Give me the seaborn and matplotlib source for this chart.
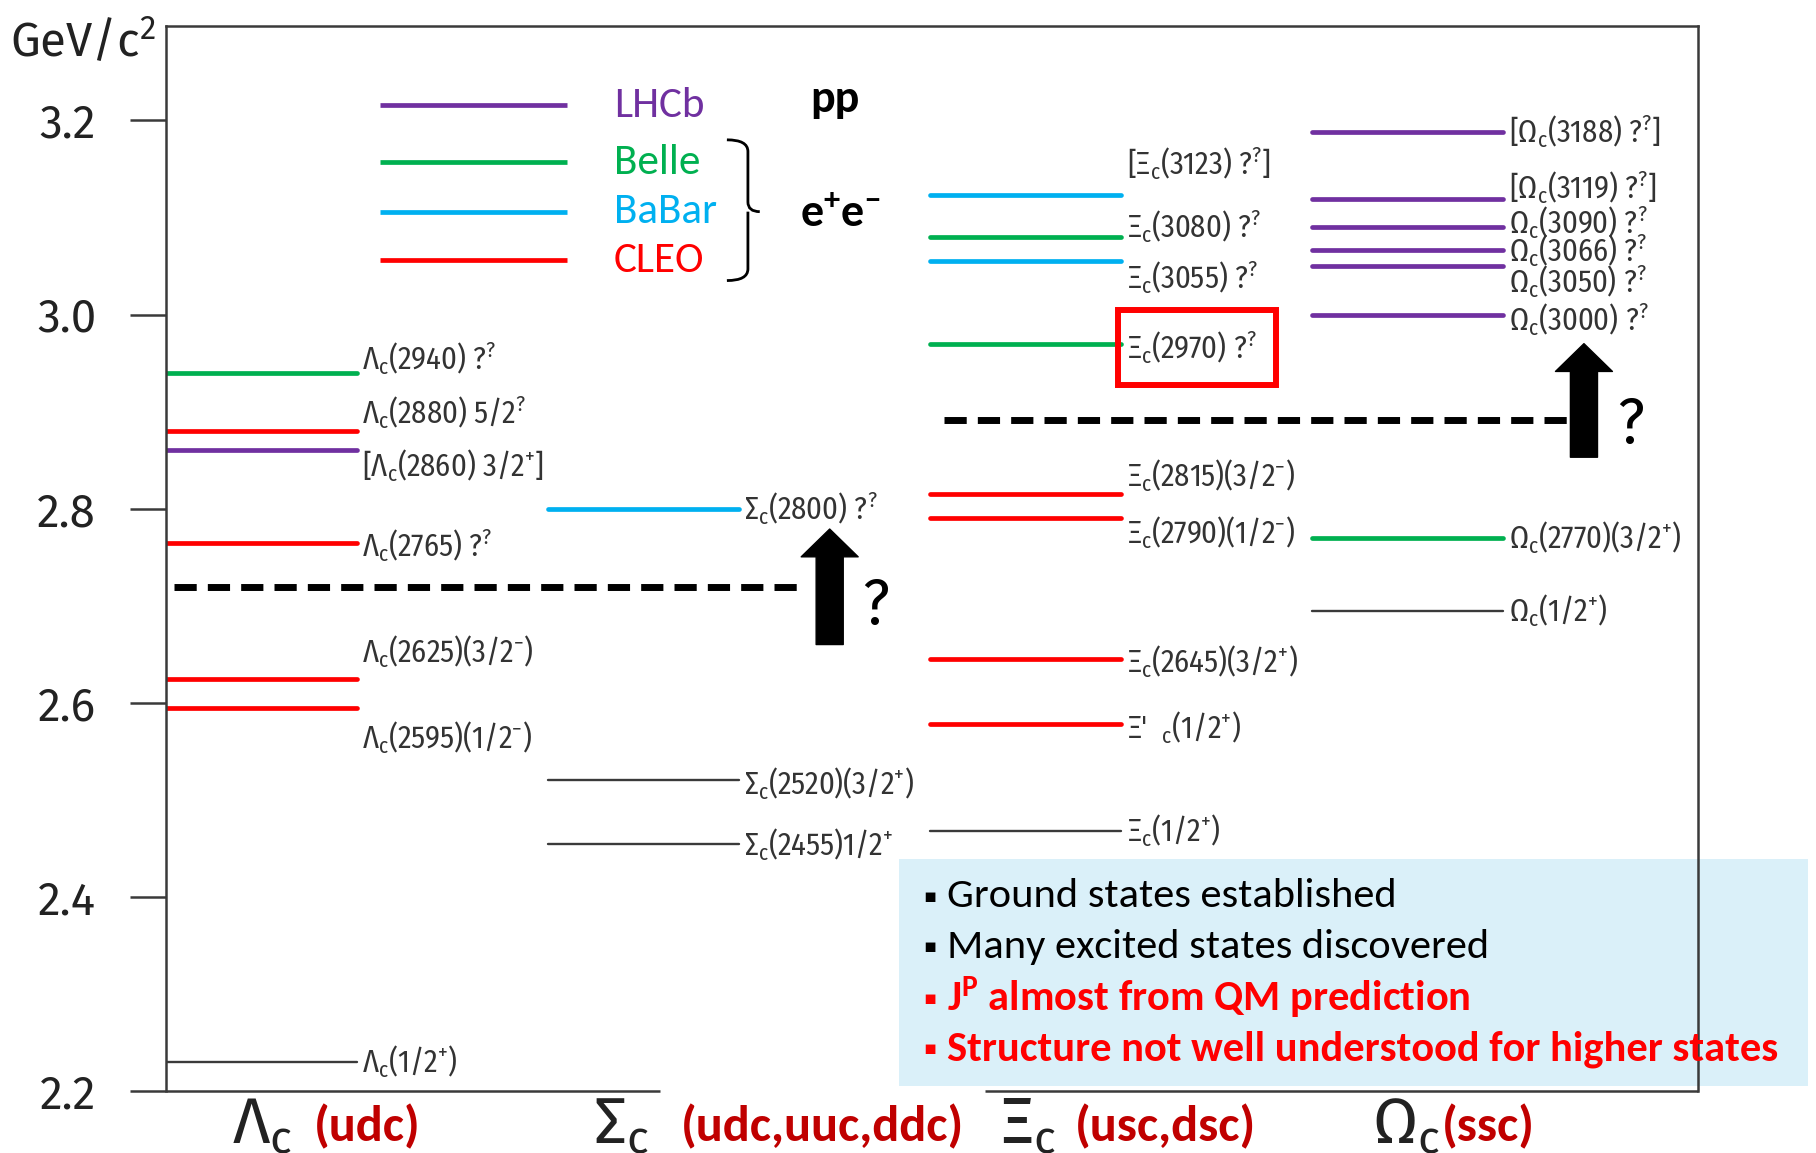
import matplotlib
matplotlib.use("Agg")
import matplotlib.pyplot as plt
import numpy as np
import pandas as pd
import seaborn as sns
from matplotlib import font_manager as fm
from matplotlib.patches import FancyArrowPatch, ArrowStyle, Rectangle, PathPatch
from matplotlib.path import Path

# ---------------- data ----------------
families = ["Λ", "Σ", "Ξ", "Ω"]
quark_content = ["(udc)", "(udc,uuc,ddc)", "(usc,dsc)", "(ssc)"]

lambda_mass = [2.940, 2.880, 2.860, 2.765, 2.625, 2.595, 2.230]
lambda_expt = ["Belle", "CLEO", "LHCb", "CLEO", "CLEO", "CLEO", "ground"]
lambda_text = ["Λ$_{c}$(2940) ?$^{?}$", "Λ$_{c}$(2880) 5/2$^{?}$", "[Λ$_{c}$(2860) 3/2$^{+}$]",
               "Λ$_{c}$(2765) ?$^{?}$", "Λ$_{c}$(2625)(3/2$^{-}$)", "Λ$_{c}$(2595)(1/2$^{-}$)",
               "Λ$_{c}$(1/2$^{+}$)"]

sigma_mass = [2.800, 2.520, 2.455]
sigma_expt = ["BaBar", "ground", "ground"]
sigma_text = ["Σ$_{c}$(2800) ?$^{?}$", "Σ$_{c}$(2520)(3/2$^{+}$)", "Σ$_{c}$(2455)1/2$^{+}$"]

xi_mass = [3.123, 3.080, 3.055, 2.970, 2.815, 2.790, 2.645, 2.578, 2.468]
xi_expt = ["BaBar", "Belle", "BaBar", "Belle", "CLEO", "CLEO", "CLEO", "CLEO", "ground"]
xi_text = ["[Ξ$_{c}$(3123) ?$^{?}$]", "Ξ$_{c}$(3080) ?$^{?}$", "Ξ$_{c}$(3055) ?$^{?}$",
           "Ξ$_{c}$(2970) ?$^{?}$", "Ξ$_{c}$(2815)(3/2$^{-}$)", "Ξ$_{c}$(2790)(1/2$^{-}$)",
           "Ξ$_{c}$(2645)(3/2$^{+}$)", "Ξ'  $_{c}$(1/2$^{+}$)", "Ξ$_{c}$(1/2$^{+}$)"]

omega_mass = [3.188, 3.119, 3.090, 3.066, 3.050, 3.000, 2.770, 2.695]
omega_expt = ["LHCb", "LHCb", "LHCb", "LHCb", "LHCb", "LHCb", "Belle", "ground"]
omega_text = ["[Ω$_{c}$(3188) ?$^{?}$]", "[Ω$_{c}$(3119) ?$^{?}$]", "Ω$_{c}$(3090) ?$^{?}$",
              "Ω$_{c}$(3066) ?$^{?}$", "Ω$_{c}$(3050) ?$^{?}$", "Ω$_{c}$(3000) ?$^{?}$",
              "Ω$_{c}$(2770)(3/2$^{+}$)", "Ω$_{c}$(1/2$^{+}$)"]

experiments = ["LHCb", "Belle", "BaBar", "CLEO"]
expt_colors = ["#7030A0", "#00B050", "#00B0F0", "#FF0000"]

# thresholds (dashed) and the "?" arrows above them
threshold_mass = [2.719, 2.891]
arrow_from = [2.660, 2.853]
arrow_to = [2.779, 2.970]

notes = ["Ground states established", "Many excited states discovered",
         "J$^{P}$ almost from QM prediction", "Structure not well understood for higher states"]
note_colors = ["black", "black", "#FF0000", "#FF0000"]
note_weights = ["normal", "normal", "bold", "bold"]

yticks = [2.2, 2.4, 2.6, 2.8, 3.0, 3.2]
ytick_labels = ["2.2", "2.4", "2.6", "2.8", "3.0", "3.2"]

# ---------------- layout (label offsets, in GeV) ----------------
lambda_dy = [0.014, 0.019, -0.016, -0.003, 0.027, -0.031, 0.0]
sigma_dy = [0.0, -0.004, -0.002]
xi_dy = [0.032, 0.010, -0.017, -0.004, 0.019, -0.015, -0.003, -0.004, 0.0]
omega_dy = [0.0, 0.012, 0.005, 0.0, -0.016, -0.005, 0.0, 0.0]

W, H = 1816, 1153
LINE_LEN = 0.5
LABEL_GAP = 0.515

sns.set_theme(style="white")
installed = {f.name for f in fm.fontManager.ttflist}


def pick(*cands):
    for c in cands:
        if c in installed:
            return c
    return "DejaVu Sans"


NARROW = pick("Fira Sans Condensed", "Roboto Condensed", "Noto Sans")
WIDE = pick("Fira Sans", "Noto Sans", "DejaVu Sans")
CAL = pick("Carlito", "Lato")
cal_scale = 1.07 if CAL == "Carlito" else 1.0
plt.rcParams["font.family"] = [NARROW, "DejaVu Sans"]
plt.rcParams["mathtext.default"] = "regular"

fig = plt.figure(figsize=(W / 100, H / 100), dpi=100)
fig.patch.set_facecolor("white")
ax = fig.add_axes([165.6 / W, 1 - 1091 / H, (1698 - 165.6) / W, (1091 - 25.5) / H])
ax.set_facecolor("none")
ax.set_xlim(0, 1532 / 382)
ax.set_ylim(2.2, 3.2978)

# ---------------- levels ----------------
groups = [(lambda_mass, lambda_expt), (sigma_mass, sigma_expt),
          (xi_mass, xi_expt), (omega_mass, omega_expt)]
rows = []
for col, (masses, expts) in enumerate(groups):
    for k, (m, e) in enumerate(zip(masses, expts)):
        for xx in (col, col + LINE_LEN):
            rows.append(dict(state=f"{col}-{k}", x=xx, mass=m, source=e,
                             kind="plain" if e == "ground" else "exp"))
levels = pd.DataFrame(rows)
palette = dict(zip(experiments, expt_colors))
palette["ground"] = "#3a3a3a"
sns.lineplot(data=levels, x="x", y="mass", hue="source", units="state",
             estimator=None, sort=False, size="kind",
             sizes={"exp": 3.4, "plain": 1.7}, palette=palette,
             legend=False, ax=ax)

label_sets = [(lambda_mass, lambda_text, lambda_dy), (sigma_mass, sigma_text, sigma_dy),
              (xi_mass, xi_text, xi_dy), (omega_mass, omega_text, omega_dy)]
for col, (masses, texts, dys) in enumerate(label_sets):
    for m, t, dy in zip(masses, texts, dys):
        ax.text(col + LABEL_GAP, m + dy, t, fontsize=22, color="#333333",
                ha="left", va="center")

# red box around the Xi_c(2970) label
ax.add_patch(Rectangle((2.492, 2.927), 0.414, 0.078, fill=False,
                       edgecolor="#FF0000", linewidth=4.3, zorder=5))

# ---------------- thresholds and arrows ----------------
dash_spans = [(0.021, 1.673), (2.037, 3.688)]
arrow_x = [1.738, 3.712]
qmark_xy = [(1.859, 2.699), (3.835, 2.885)]
for (x0, x1), ym in zip(dash_spans, threshold_mass):
    ax.plot([x0, x1], [ym, ym], color="black", linewidth=5,
            dashes=(3.2, 1.6), solid_capstyle="butt", dash_capstyle="butt")
for xa, y0, y1, (qx, qy) in zip(arrow_x, arrow_from, arrow_to, qmark_xy):
    ax.add_patch(FancyArrowPatch((xa, y0), (xa, y1),
                                 arrowstyle=ArrowStyle.Simple(head_length=20, head_width=41,
                                                              tail_width=19.5),
                                 mutation_scale=1, shrinkA=0, shrinkB=0,
                                 color="black", zorder=6))
    ax.text(qx, qy, "?", fontsize=46, color="black", ha="center", va="center")

# ---------------- legend ----------------
legend_y = [3.2155, 3.157, 3.106, 3.056]
for name, c, ly in zip(experiments, expt_colors, legend_y):
    ax.plot([0.56, 1.05], [ly, ly], color=c, linewidth=3.4, solid_capstyle="butt")
    ax.text(1.173, ly, name, color=c, fontsize=29 * cal_scale, va="center", ha="left",
            family=CAL)
ax.text(1.688, 3.222, "pp", fontsize=31 * cal_scale, fontweight="bold", va="center",
        ha="left", family=CAL, color="black")
bx0, bx1, bx2 = 1.469, 1.524, 1.555
yt, ym, yb = 3.180, 3.106, 3.035
brace = Path([(bx0, yt), (bx1, yt), (bx1, yt - 0.012), (bx1, ym + 0.010),
              (bx1, ym), (bx2, ym), (bx1, ym), (bx1, ym - 0.010),
              (bx1, yb + 0.012), (bx1, yb), (bx0, yb)],
             [Path.MOVETO, Path.CURVE3, Path.CURVE3, Path.LINETO,
              Path.CURVE3, Path.CURVE3, Path.MOVETO, Path.LINETO,
              Path.LINETO, Path.CURVE3, Path.CURVE3])
ax.add_patch(PathPatch(brace, fill=False, edgecolor="black", linewidth=2))
ax.text(1.66, 3.104, "e$^{+}$e$^{-}$", fontsize=31 * cal_scale, fontweight="bold",
        va="center", ha="left", family=CAL, color="black")

# ---------------- axes frame ----------------
for side in ["left", "top", "right"]:
    ax.spines[side].set_color("#3a3a3a")
    ax.spines[side].set_linewidth(1.8)
ax.spines["bottom"].set_visible(False)
for x0, x1 in [(0, 1.293), (2.144, 1532 / 382)]:
    ax.plot([x0, x1], [2.2, 2.2], color="#3a3a3a", linewidth=1.8,
            solid_capstyle="butt", clip_on=False)
ax.set_xticks([])
ax.set_yticks(yticks)
ax.set_yticklabels(ytick_labels, family=[WIDE, "DejaVu Sans"], fontweight="normal")
ax.tick_params(axis="y", left=True, length=26, width=1.8, pad=24, labelsize=33,
               color="#3a3a3a", labelcolor="#222222")
ax.set_xlabel("")
ax.set_ylabel("")

fig.text(10 / W, 1 - 42 / H, "GeV/c$^{2}$", fontsize=34, color="#222222",
         family=[WIDE, "DejaVu Sans"], fontweight="normal", va="center", ha="left")

# ---------------- category labels under the axis ----------------
greek_x = [232, 593, 1000, 1372]
red_x = [314, 681, 1075, 1442]
for g, q, gx, rx in zip(families, quark_content, greek_x, red_x):
    fig.text(gx / W, 1 - 1143 / H, g + "$_{c}$", fontsize=47, color="#222222",
             family=[WIDE, "DejaVu Sans"], fontweight="normal", va="baseline", ha="left")
    fig.text(rx / W, 1 - 1141 / H, q, fontsize=34 * cal_scale, color="#C00000",
             fontweight="bold", va="baseline", ha="left", family=CAL)

# ---------------- summary box ----------------
fig.patches.append(Rectangle((899 / W, 1 - 1086 / H), (1808 - 899) / W, (1086 - 859) / H,
                             transform=fig.transFigure, facecolor="#DAF0F9",
                             edgecolor="none", zorder=-1))
note_y = [896, 947, 998, 1049]
for t, c, w, ny in zip(notes, note_colors, note_weights, note_y):
    fig.text(923 / W, 1 - ny / H, "▪", fontsize=14, color=c, va="center", ha="left",
             family="DejaVu Sans")
    fig.text(947 / W, 1 - ny / H, t, fontsize=28.6 * cal_scale, color=c, fontweight=w,
             va="center", ha="left", family=CAL)

fig.savefig("out.png", dpi=100)
